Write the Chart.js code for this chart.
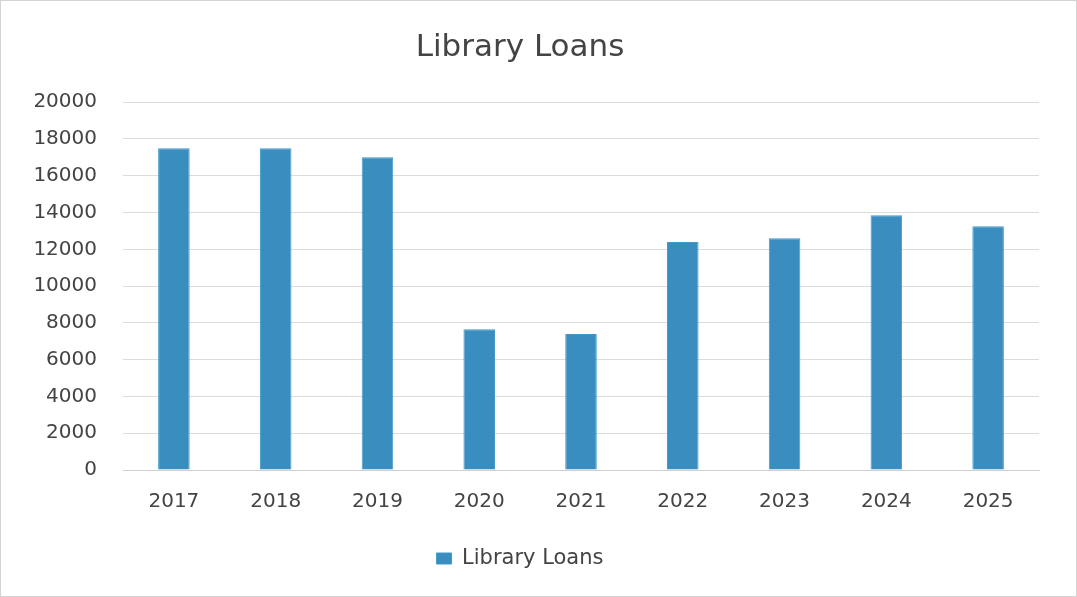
<!DOCTYPE html>
<html>
<head>
<meta charset="utf-8">
<title>Library Loans</title>
<script src="https://cdn.jsdelivr.net/npm/chart.js@4/dist/chart.umd.min.js"></script>
<style>
  html, body { margin: 0; padding: 0; background: #fff; }
  #wrap {
    position: relative;
    width: 1077px;
    height: 597px;
    box-sizing: border-box;
    border: 1px solid #d4d4d4;
  }
</style>
</head>
<body>
<div id="wrap"><canvas id="chart"></canvas></div>
<script>
// datos del grafico
const years = ['2017', '2018', '2019', '2020', '2021', '2022', '2023', '2024', '2025'];
const loans = [17500, 17500, 17000, 7650, 7400, 12400, 12600, 13850, 13250];
const yTicks = [0, 2000, 4000, 6000, 8000, 10000, 12000, 14000, 16000, 18000, 20000];

const fuente = '"DejaVu Sans", sans-serif';
const gris = '#444444';

new Chart(document.getElementById('chart'), {
  type: 'bar',
  data: {
    labels: years,
    datasets: [{
      label: 'Library Loans',
      data: loans,
      backgroundColor: '#3a8dbf',
      borderColor: '#3f9acb',
      borderWidth: 1,
      categoryPercentage: 1,
      barPercentage: 0.31
    }]
  },
  options: {
    responsive: true,
    maintainAspectRatio: false,
    animation: false,
    layout: { padding: { top: 18, right: 37, bottom: 17, left: 0 } },
    plugins: {
      title: {
        display: true,
        text: 'Library Loans',
        color: gris,
        font: { family: fuente, size: 31, weight: 'normal' },
        padding: { top: 10, bottom: 36 }
      },
      legend: {
        position: 'bottom',
        labels: {
          color: gris,
          font: { family: fuente, size: 21 },
          boxWidth: 15,
          boxHeight: 11,
          padding: 10
        }
      },
      tooltip: { enabled: false }
    },
    scales: {
      x: {
        grid: { display: false },
        border: { color: '#cfcfcf' },
        afterFit: scale => { scale.height += 12; },
        ticks: { color: gris, font: { family: fuente, size: 20 }, padding: 12 }
      },
      y: {
        min: 0,
        max: 20000,
        afterFit: scale => { scale.width = 122; },
        afterBuildTicks: scale => { scale.ticks = yTicks.map(v => ({ value: v })); },
        grid: { color: '#dcdcdc', drawTicks: false },
        border: { display: false },
        ticks: {
          color: gris,
          font: { family: fuente, size: 20 },
          padding: 26,
          callback: v => String(v)
        }
      }
    }
  }
});
</script>
</body>
</html>
